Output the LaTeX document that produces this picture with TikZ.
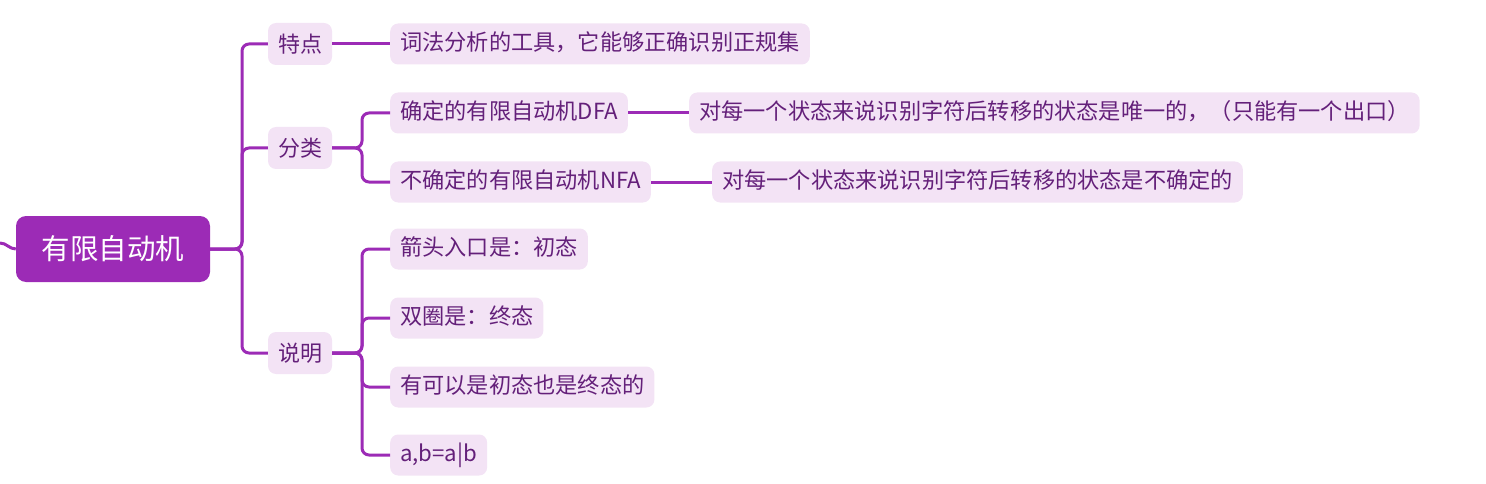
\documentclass[tikz,border=0pt]{standalone}
\usepackage{fontspec}
\setmainfont{Noto Sans CJK SC}
\definecolor{linec}{HTML}{9C2BB6}
\definecolor{rootc}{HTML}{9C2BB6}
\definecolor{boxc}{HTML}{F3E3F5}
\definecolor{textc}{HTML}{64207A}
\begin{document}
\begin{tikzpicture}[x=1pt,y=-1pt,
  conn/.style={draw=linec, line width=3pt, rounded corners=7pt},
  rootbox/.style={fill=rootc, text=white, rounded corners=10pt, font=\fontsize{28.5}{33}\selectfont, minimum width=194pt, minimum height=66pt, inner sep=0pt},
  lvone/.style={fill=boxc, text=textc, rounded corners=8pt, font=\fontsize{22}{26}\selectfont, minimum width=64pt, minimum height=42pt, inner sep=0pt},
  topic/.style={fill=boxc, text=textc, rounded corners=8pt, font=\fontsize{22.2}{26}\selectfont, inner xsep=10pt, inner ysep=0pt, minimum height=41pt, anchor=west, text height=16.5pt, text depth=4pt}
]
\useasboundingbox (0,0) rectangle (1486,484);
\node[rootbox] (root) at (113,249) {有限自动机};
\coordinate (stub) at (0,243);
\draw[conn] (stub) to[out=0,in=180] (root.west);

\node[lvone] (td) at (300,44) {特点};
\node[lvone] (fl) at (300,148) {分类};
\node[lvone] (sm) at (300,353) {说明};

\node[topic] (cf) at (390,44) {词法分析的工具，它能够正确识别正规集};
\node[topic] (dfa) at (390,113) {确定的有限自动机DFA};
\node[topic] (nfa) at (390,182) {不确定的有限自动机NFA};
\node[topic] (dfad) at (689,113) {对每一个状态来说识别字符后转移的状态是唯一的，（只能有一个出口）};
\node[topic] (nfad) at (712,182) {对每一个状态来说识别字符后转移的状态是不确定的};
\node[topic] (s1) at (390,249) {箭头入口是：初态};
\node[topic] (s2) at (390,318) {双圈是：终态};
\node[topic] (s3) at (390,387) {有可以是初态也是终态的};
\node[topic] (s4) at (390,455) {a,b=a|b};

\draw[conn] (root.east) -- (242,249) |- (td.west);
\draw[conn] (root.east) -- (242,249) |- (fl.west);
\draw[conn] (root.east) -- (242,249) |- (sm.west);

\draw[conn] (td.east) -- (cf.west);
\draw[conn] (fl.east) -- (362,148) |- (dfa.west);
\draw[conn] (fl.east) -- (362,148) |- (nfa.west);
\draw[conn] (dfa.east) -- (dfad.west);
\draw[conn] (nfa.east) -- (nfad.west);

\draw[conn] (sm.east) -- (362,353) |- (s1.west);
\draw[conn] (sm.east) -- (362,353) |- (s2.west);
\draw[conn] (sm.east) -- (362,353) |- (s3.west);
\draw[conn] (sm.east) -- (362,353) |- (s4.west);
\end{tikzpicture}
\end{document}
